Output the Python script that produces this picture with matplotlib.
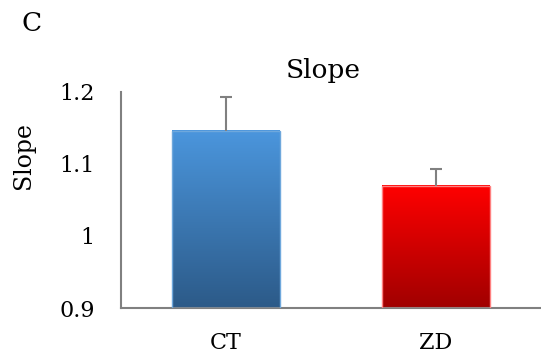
import matplotlib.pyplot as plt
import numpy as np
from matplotlib.colors import LinearSegmentedColormap

categories = ["CT", "ZD"]
values = [1.146, 1.070]
errors = [0.047, 0.023]
top_colors = ["#4B96DD", "#FF0000"]
bottom_colors = ["#2C5A88", "#A00000"]
edge_colors = ["#6FA8DC", "#FF8080"]

plt.rcParams['font.family'] = ['DejaVu Serif']

fig = plt.figure(figsize=(5.41, 3.61), dpi=100)
ax = fig.add_axes([0.2237, 0.1468, 0.7763, 0.5984])

x = np.arange(len(categories))
width = 0.51
bars = ax.bar(x, values, width=width, color="none", edgecolor="none", zorder=2)
grad = np.linspace(0, 1, 256).reshape(-1, 1)
for bar, c_top, c_bot, c_edge in zip(bars, top_colors, bottom_colors, edge_colors):
    cmap = LinearSegmentedColormap.from_list("g", [c_bot, c_top])
    x0, y0 = bar.get_x(), 0.9
    x1, y1 = x0 + bar.get_width(), bar.get_height()
    ax.imshow(grad, cmap=cmap, aspect="auto", origin="lower",
              extent=[x0, x1, y0, y1], zorder=2)
    ax.add_patch(plt.Rectangle((x0, y0), x1 - x0, y1 - y0, fill=False,
                               edgecolor=c_edge, linewidth=1, zorder=3))

# upward-only error bars
tops = np.array(values) + np.array(errors)
ax.vlines(x, values, tops, color="#808080", linewidth=1.5, zorder=4)
ax.hlines(tops, x - 0.03, x + 0.03, color="#808080", linewidth=1.5, zorder=4)

ax.set_xlim(-0.5, 1.5)
ax.set_ylim(0.9, 1.2)
ax.set_yticks([0.9, 1.0, 1.1, 1.2])
ax.set_yticklabels(["0.9", "1", "1.1", "1.2"], fontsize=16)
ax.set_xticks(x)
ax.set_xticklabels(categories, fontsize=16)
ax.tick_params(axis="y", length=0, pad=19)
ax.tick_params(axis="x", length=0, pad=17)
for s in ["top", "right"]:
    ax.spines[s].set_visible(False)
for s in ["left", "bottom"]:
    ax.spines[s].set_color("#808080")
    ax.spines[s].set_linewidth(1.5)

fig.text(0.597, 0.805, "Slope", fontsize=19, ha="center", va="center")
fig.text(0.043, 0.568, "Slope", fontsize=17, rotation=90, ha="center", va="center")
fig.text(0.059, 0.935, "C", fontsize=19, ha="center", va="center")

fig.savefig("out.png", dpi=100)
